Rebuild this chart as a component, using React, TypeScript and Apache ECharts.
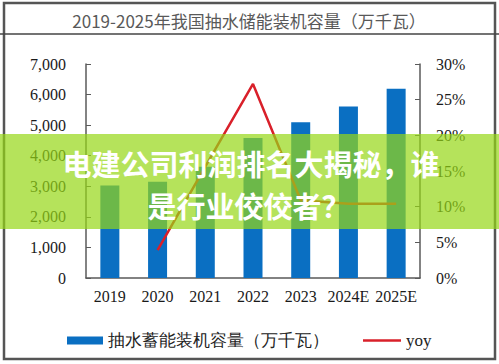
import React, { useEffect, useRef } from "react";
import * as echarts from "echarts";

const categories = ["2019", "2020", "2021", "2022", "2023", "2024E", "2025E"];
const capacity = [3029, 3149, 3639, 4579, 5094, 5610, 6190];
const yoy = [null, 3.9, 15.6, 27.2, 10.9, 10.4, 10.4];
const titleText = "2019-2025年我国抽水储能装机容量（万千瓦）";
const barName = "抽水蓄能装机容量（万千瓦）";
const lineName = "yoy";
const bannerLine1 = "电建公司利润排名大揭秘，谁";
const bannerLine2 = "是行业佼佼者？";

export default function App() {
  const ref = useRef<HTMLDivElement>(null);
  useEffect(() => {
    if (!ref.current) return;
    const chart = echarts.init(ref.current, null, { renderer: "svg" });
    const serif = "'Liberation Serif', 'Times New Roman', serif";
    const axisColor = "#5a5a5a";
    chart.setOption({
      animation: false,
      backgroundColor: "#ffffff",
      grid: { left: 86, right: 79, top: 64, bottom: 86 },
      legend: [
        {
          left: 62,
          top: 327,
          itemWidth: 36,
          itemHeight: 8,
          itemGap: 7,
          textStyle: { fontFamily: serif, fontSize: 17, color: "#222" },
          data: [{ name: barName, icon: "rect" }],
        },
        {
          left: 358,
          top: 327,
          itemWidth: 38,
          itemHeight: 2.5,
          textStyle: { fontFamily: serif, fontSize: 17, color: "#222" },
          data: [{ name: lineName, icon: "rect" }],
        },
      ],
      xAxis: {
        type: "category",
        data: categories,
        axisLine: { lineStyle: { color: axisColor, width: 1.5 } },
        axisTick: { inside: true, length: 5, lineStyle: { color: axisColor } },
        axisLabel: { fontFamily: serif, fontSize: 16, color: "#1a1a1a", margin: 10, interval: 0 },
      },
      yAxis: [
        {
          type: "value",
          min: 0,
          max: 7000,
          interval: 1000,
          axisLine: { show: true, lineStyle: { color: axisColor, width: 1.5 } },
          axisTick: { show: true, inside: true, length: 5, lineStyle: { color: axisColor } },
          splitLine: { show: false },
          axisLabel: {
            fontFamily: serif,
            fontSize: 16,
            color: "#1a1a1a",
            margin: 20,
            formatter: (v: number) => v.toLocaleString("en-US"),
          },
        },
        {
          type: "value",
          min: 0,
          max: 30,
          interval: 5,
          axisLine: { show: true, lineStyle: { color: axisColor, width: 1.5 } },
          axisTick: { show: true, inside: true, length: 5, lineStyle: { color: axisColor } },
          splitLine: { show: false },
          axisLabel: {
            fontFamily: serif,
            fontSize: 16,
            color: "#1a1a1a",
            margin: 16,
            formatter: "{value}%",
          },
        },
      ],
      series: [
        {
          name: barName,
          type: "bar",
          data: capacity,
          barWidth: 19,
          itemStyle: { color: "#0a6fc2" },
        },
        {
          name: lineName,
          type: "line",
          yAxisIndex: 1,
          data: yoy,
          symbol: "none",
          lineStyle: { color: "#d9202a", width: 2.5 },
          itemStyle: { color: "#d9202a" },
        },
      ],
      graphic: [
        {
          type: "rect",
          z: 50,
          shape: { x: 4, y: 3, width: 491, height: 356 },
          style: { fill: "none", stroke: "#555", lineWidth: 2.5 },
        },
        {
          type: "line",
          z: 50,
          shape: { x1: 0, y1: 34, x2: 499, y2: 34 },
          style: { stroke: "#444", lineWidth: 1.5 },
        },
        {
          type: "text",
          z: 50,
          x: 249,
          y: 20,
          style: {
            text: titleText,
            fill: "#595959",
            font: "17px 'Noto Sans CJK SC', 'Noto Sans', sans-serif",
            align: "center",
            verticalAlign: "middle",
          },
        },
        {
          type: "rect",
          z: 100,
          shape: { x: 0, y: 134, width: 499, height: 95 },
          style: { fill: "rgba(149,215,21,0.7)" },
        },
        {
          type: "text",
          z: 101,
          x: 251,
          y: 163,
          style: {
            text: bannerLine1,
            fill: "#ffffff",
            font: "bold 29px 'Noto Sans CJK SC', sans-serif",
            align: "center",
            verticalAlign: "middle",
          },
        },
        {
          type: "text",
          z: 101,
          x: 249,
          y: 205,
          style: {
            text: bannerLine2,
            fill: "#ffffff",
            font: "bold 29px 'Noto Sans CJK SC', sans-serif",
            align: "center",
            verticalAlign: "middle",
          },
        },
      ],
    });
    return () => chart.dispose();
  }, []);
  return (
    <div
      ref={ref}
      style={{ position: "fixed", left: 0, top: 0, width: 499, height: 364 }}
    />
  );
}
